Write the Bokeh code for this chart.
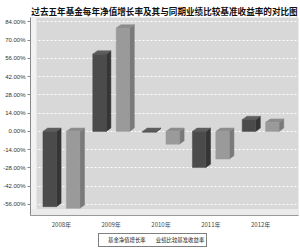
from bokeh.plotting import figure
from bokeh.layouts import column
from bokeh.models import FixedTicker, Legend, LegendItem, BoxAnnotation
from bokeh.embed import file_html
from bokeh.resources import INLINE

title_text = "过去五年基金每年净值增长率及其与同期业绩比较基准收益率的对比图"
years = ["2008年", "2009年", "2010年", "2011年", "2012年"]
fund = [-57.7, 59.3, -0.6, -27.7, 9.0]
bench = [-59.0, 79.3, -9.8, -21.2, 7.0]
series_names = ["基金净值增长率", "业绩比较基准收益率"]
y_ticks = [-56, -42, -28, -14, 0, 14, 28, 42, 56, 70, 84]

p = figure(width=300, height=231, output_backend="svg", toolbar_location=None,
           x_range=(-0.62, 4.76), y_range=(-64.5, 87.4))
p.min_border_left = 29
p.min_border_right = 2
p.min_border_top = 17
p.min_border_bottom = 13
p.background_fill_color = "#d8d8d8"
p.border_fill_color = "white"
p.outline_line_color = None

p.title.text = title_text
p.title.align = "center"
p.title.text_font = "Noto Sans CJK SC"
p.title.text_font_size = "8.6px"
p.title.text_font_style = "bold"
p.title.text_color = "#111111"
p.title.offset = 0
p.title.standoff = 2

# 3D wall and floor
p.add_layout(BoxAnnotation(right=-0.5, fill_color="#f2f2f2", fill_alpha=1, line_color=None, level="underlay"))
p.add_layout(BoxAnnotation(top=-59.5, fill_color="#ebebeb", fill_alpha=1, line_color=None, level="underlay"))

dx = 0.094
dy = 2.6
w = 0.27
offs = [-0.37, 0.10]
colors = [("#4b4b4b", "#353535", "#5e5e5e"), ("#9a9a9a", "#7a7a7a", "#8c8c8c")]
for s, vals in enumerate([fund, bench]):
    lefts = [i + offs[s] for i in range(len(vals))]
    rights = [l + w for l in lefts]
    tops = [max(v, 0) for v in vals]
    bots = [min(v, 0) for v in vals]
    side_xs = [[r, r, r + dx, r + dx] for r in rights]
    side_ys = [[b, t, t + dy, b + dy] for b, t in zip(bots, tops)]
    top_xs = [[l, r, r + dx, l + dx] for l, r in zip(lefts, rights)]
    top_ys = [[t, t, t + dy, t + dy] for t in tops]
    p.patches(side_xs, side_ys, fill_color=colors[s][1], line_color=colors[s][1], line_width=0.5)
    p.patches(top_xs, top_ys, fill_color=colors[s][2], line_color=colors[s][2], line_width=0.5)
    p.quad(left=lefts, right=rights, top=tops, bottom=bots,
           fill_color=colors[s][0], line_color=colors[s][0], line_width=0.5)

p.yaxis.ticker = FixedTicker(ticks=y_ticks)
p.yaxis.major_label_overrides = {t: f"{t:.2f}%" for t in y_ticks}
p.yaxis.major_label_text_font = "Liberation Sans"
p.yaxis.major_label_text_font_size = "6px"
p.yaxis.major_label_text_color = "#333333"
p.yaxis.axis_line_color = "#888888"
p.yaxis.major_tick_line_color = "#888888"
p.yaxis.major_tick_out = 3
p.yaxis.major_tick_in = 0
p.yaxis.minor_tick_line_color = None
p.yaxis.major_label_standoff = 2

p.xaxis.ticker = FixedTicker(ticks=list(range(len(years))))
p.xaxis.major_label_overrides = {i: y for i, y in enumerate(years)}
p.xaxis.major_label_text_font = "Noto Sans CJK SC"
p.xaxis.major_label_text_font_size = "6px"
p.xaxis.major_label_text_color = "#444444"
p.xaxis.axis_line_color = "#999999"
p.xaxis.major_tick_line_color = None
p.xaxis.major_tick_out = 0
p.xaxis.major_tick_in = 0
p.xaxis.minor_tick_line_color = None
p.xaxis.minor_tick_out = 0
p.xaxis.major_label_standoff = 4

p.xgrid.grid_line_color = None
p.ygrid.ticker = FixedTicker(ticks=y_ticks)
p.ygrid.grid_line_color = "white"
p.ygrid.grid_line_dash = "2 2"
p.ygrid.grid_line_width = 1

# legend strip below the chart
lg = figure(width=300, height=18, output_backend="svg", toolbar_location=None,
            x_range=(0, 1), y_range=(0, 1), title=None,
            x_axis_location=None, y_axis_location=None)
lg.min_border_left = 29
lg.min_border_right = 2
lg.min_border_top = 0
lg.min_border_bottom = 0
lg.grid.visible = False
lg.outline_line_color = None
legend_colors = ["#1a1a1a", "#444444"]
items = []
for name, c in zip(series_names, legend_colors):
    r = lg.quad(left=[], right=[], top=[], bottom=[], fill_color=c, line_color=c)
    items.append(LegendItem(label=name, renderers=[r]))
legend = Legend(items=items, orientation="horizontal", location=(68, 2))
legend.label_text_font = "Noto Sans CJK SC"
legend.label_text_font_size = "5.4px"
legend.label_text_color = "#222222"
legend.glyph_width = 5
legend.glyph_height = 5
legend.label_standoff = 2
legend.spacing = 3
legend.padding = 2
legend.margin = 0
legend.label_height = 6
legend.border_line_color = "black"
legend.border_line_width = 1
legend.background_fill_color = "white"
lg.add_layout(legend)

layout = column(p, lg, spacing=0)
open("out.html", "w").write(file_html(layout, INLINE))
